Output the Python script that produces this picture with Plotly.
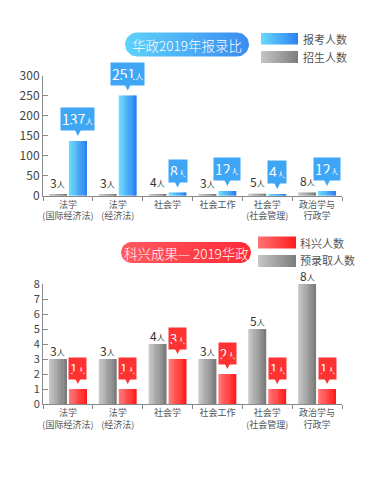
import numpy as np
import plotly.graph_objects as go

# ---------------- data ----------------
categories = ["法学<br>(国际经济法)", "法学<br>(经济法)", "社会学", "社会工作",
              "社会学<br>(社会管理)", "政治学与<br>行政学"]
applicants = [137, 251, 8, 12, 4, 12]      # 报考人数
enrolled = [3, 3, 4, 3, 5, 8]              # 招生人数
kexing = [1, 1, 3, 2, 1, 1]                # 科兴人数
pre_admitted = [3, 3, 4, 3, 5, 8]          # 预录取人数
title_top = "华政2019年报录比"
title_bottom = "科兴成果— 2019华政"
y_top_ticks = [0, 50, 100, 150, 200, 250, 300]
y_bottom_ticks = [0, 1, 2, 3, 4, 5, 6, 7, 8]

W, H = 375, 480
FONT = "Noto Sans CJK SC, Noto Sans, sans-serif"

BLUE = ("#68dafc", "#2c80f0")
GRAY = ("#c6c6c6", "#7c7c7c")
RED = ("#ff7474", "#ff1c1c")


def hex2rgb(h):
    h = h.lstrip("#")
    return [int(h[i:i + 2], 16) for i in (0, 2, 4)]


def mix(c0, c1, t):
    a, b = hex2rgb(c0), hex2rgb(c1)
    return "rgb(%d,%d,%d)" % tuple(round(a[i] + (b[i] - a[i]) * t) for i in range(3))


fig = go.Figure()

OFF_L, OFF_R, BW = -0.38, 0.02, 0.36
N = 10


def gradient_bars(values, offset, colors, xa, ya):
    step = BW / N
    for k in range(N):
        w = min(step * 1.25, BW - k * step)
        fig.add_trace(go.Bar(
            x=categories, y=values, offset=offset + k * step, width=w,
            marker=dict(color=mix(colors[0], colors[1], k / (N - 1)), line_width=0),
            xaxis=xa, yaxis=ya, showlegend=False, hoverinfo="skip"))


gradient_bars(enrolled, OFF_L, GRAY, "x", "y")
gradient_bars(applicants, OFF_R, BLUE, "x", "y")
gradient_bars(pre_admitted, OFF_L, GRAY, "x2", "y2")
gradient_bars(kexing, OFF_R, RED, "x2", "y2")


# ---------------- decorations in pixel space (x3/y3) ----------------
def pill(x0, x1, y0, y1, colors, r=None):
    h = y1 - y0
    r = h / 2 if r is None else r
    t = np.linspace(0, np.pi / 2, 12)
    xs, ys = [], []
    xs += list(x1 - r + r * np.sin(t)); ys += list(y0 + r - r * np.cos(t))
    xs += list(x1 - r + r * np.cos(t)); ys += list(y1 - r + r * np.sin(t))
    xs += list(x0 + r - r * np.sin(t)); ys += list(y1 - r + r * np.cos(t))
    xs += list(x0 + r - r * np.cos(t)); ys += list(y0 + r - r * np.sin(t))
    xs.append(xs[0]); ys.append(ys[0])
    fig.add_trace(go.Scatter(
        x=xs, y=ys, mode="lines", fill="toself", line_width=0,
        fillcolor=mix(colors[0], colors[1], 0.5),
        fillgradient=dict(type="horizontal",
                          colorscale=[[0, colors[0]], [1, colors[1]]]),
        xaxis="x3", yaxis="y3", showlegend=False, hoverinfo="skip"))


def rect(x0, x1, y0, y1, colors):
    fig.add_trace(go.Scatter(
        x=[x0, x1, x1, x0, x0], y=[y0, y0, y1, y1, y0], mode="lines",
        fill="toself", line_width=0,
        fillcolor=mix(colors[0], colors[1], 0.5),
        fillgradient=dict(type="horizontal",
                          colorscale=[[0, colors[0]], [1, colors[1]]]),
        xaxis="x3", yaxis="y3", showlegend=False, hoverinfo="skip"))


pill(125, 249, 32.5, 56.5, ("#5fd2fb", "#3a8cf0"))
pill(121, 251, 242, 263, ("#ff5a60", "#ff2a36"))
rect(261, 298, 33, 44.5, BLUE)
rect(261, 298, 51, 63, GRAY)
rect(258, 296, 236.5, 248.5, RED)
rect(258, 296, 255, 267, GRAY)

annotations = []


def px_text(x, y, text, size, color, xanchor="center", weight=400):
    annotations.append(dict(x=x, y=y, xref="x3", yref="y3", text=text,
                            showarrow=False, xanchor=xanchor, yanchor="middle",
                            borderpad=0,
                            font=dict(family=FONT, size=size, color=color,
                                      weight=weight)))


px_text(187, 44.5, title_top, 13.5, "white", weight=300)
px_text(186, 252.5, title_bottom, 13.5, "white", weight=300)
px_text(302, 39, "报考人数", 11, "#555", "left")
px_text(302, 57, "招生人数", 11, "#555", "left")
px_text(299, 242.5, "科兴人数", 11, "#555", "left")
px_text(299, 259.5, "预录取人数", 11, "#555", "left")

# ---------------- value labels ----------------
UNIT = "<span style='font-size:8px'>人</span>"


def plain_labels(values, xa, ya, shift):
    for i, v in enumerate(values):
        annotations.append(dict(
            x=i + OFF_L + BW / 2, y=v, xref=xa, yref=ya, text=f"{v}{UNIT}",
            showarrow=False, yanchor="bottom", yshift=shift, borderpad=0,
            font=dict(family=FONT, size=12, color="#333")))


def bubble_labels(values, xa, ya, color, ay, size):
    for i, v in enumerate(values):
        annotations.append(dict(
            x=i + OFF_R + BW / 2, y=v, xref=xa, yref=ya, text=f"{v}{UNIT}",
            showarrow=True, ax=0, ay=ay, arrowhead=2, arrowsize=1,
            arrowwidth=2.5, arrowcolor=color, standoff=5,
            bgcolor=color, borderpad=1,
            font=dict(family=FONT, size=size, color="white")))


plain_labels(enrolled, "x", "y", 3)
bubble_labels(applicants, "x", "y", "#3ea6f5", -22, 14)
plain_labels(pre_admitted, "x2", "y2", -1)
bubble_labels(kexing, "x2", "y2", "#ff3232", -21, 13)

# ---------------- axes ----------------
XD = [43 / W, 342 / W]
axis_col = "#888"

xcommon = dict(domain=XD, type="category", showline=True, linecolor=axis_col,
               linewidth=1, ticks="outside", tickson="boundaries", ticklen=4,
               tickcolor=axis_col, showgrid=False, zeroline=False,
               tickangle=0, automargin=False,
               tickfont=dict(family=FONT, size=9, color="#555"),
               range=[-0.5, 5.5], fixedrange=True)
ycommon = dict(showline=True, linecolor=axis_col, linewidth=1, ticks="inside",
               ticklen=5, tickcolor=axis_col, showgrid=False, zeroline=False,
               automargin=False, fixedrange=True)

fig.update_layout(
    template="none",
    width=W, height=H, margin=dict(l=0, r=0, t=0, b=0, pad=0),
    paper_bgcolor="white", plot_bgcolor="rgba(0,0,0,0)",
    barmode="overlay", showlegend=False,
    font=dict(family=FONT),
    xaxis=dict(anchor="y", **xcommon),
    yaxis=dict(anchor="x", domain=[1 - 195.7 / H, 1 - 76 / H], range=[0, 300],
               tickvals=y_top_ticks,
               tickfont=dict(family=FONT, size=12, color="#444"), **ycommon),
    xaxis2=dict(anchor="y2", **xcommon),
    yaxis2=dict(anchor="x2", domain=[1 - 404 / H, 1 - 284 / H], range=[0, 8],
                tickvals=y_bottom_ticks,
                tickfont=dict(family=FONT, size=11, color="#444"), **ycommon),
    xaxis3=dict(domain=[0, 1], range=[0, W], visible=False, anchor="y3",
                automargin=False, fixedrange=True),
    yaxis3=dict(domain=[0, 1], range=[H, 0], visible=False, anchor="x3",
                automargin=False, fixedrange=True),
    annotations=annotations,
)

fig.write_html("out.html", config={"displayModeBar": False})
